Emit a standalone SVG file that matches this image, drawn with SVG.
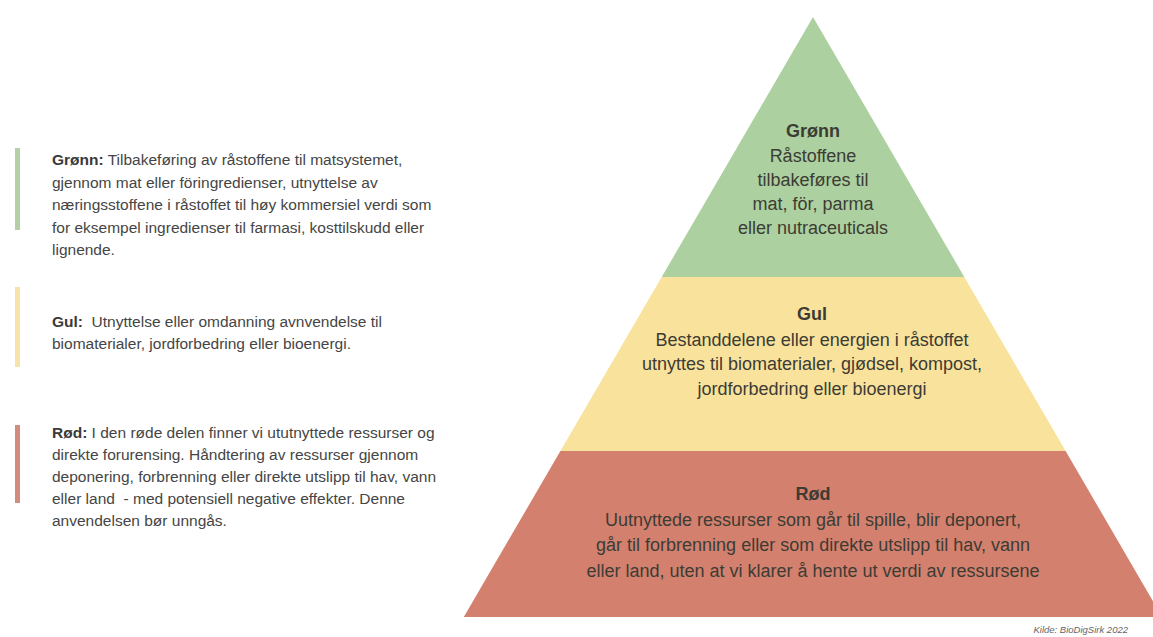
<svg xmlns="http://www.w3.org/2000/svg" width="1153" height="637" viewBox="0 0 1153 637">
  <style>
    .leg { font-family: "Liberation Sans", Arial, sans-serif; font-size: 15.5px; fill: #454545; white-space: pre; }
    .leg .b { font-weight: bold; fill: #3a3a3a; }
    .pyr { font-family: "Liberation Sans", Arial, sans-serif; font-size: 18px; fill: #3c3c34; text-anchor: middle; }
    .pyr .t { font-weight: bold; }
    .src { font-family: "Liberation Sans", Arial, sans-serif; font-size: 9.5px; font-style: italic; fill: #666666; text-anchor: end; }
  </style>
  <rect x="0" y="0" width="1153" height="637" fill="#ffffff"/>

  <g id="legend-gronn">
    <rect x="15" y="148" width="5" height="82" fill="#b5d0a8"/>
    <text class="leg" x="52" y="165"><tspan class="b">Grønn:</tspan> Tilbakeføring av råstoffene til matsystemet,</text>
    <text class="leg" x="52" y="187.5">gjennom mat eller föringredienser, utnyttelse av</text>
    <text class="leg" x="52" y="210">næringsstoffene i råstoffet til høy kommersiel verdi som</text>
    <text class="leg" x="52" y="232.5">for eksempel ingredienser til farmasi, kosttilskudd eller</text>
    <text class="leg" x="52" y="255">lignende.</text>
  </g>

  <g id="legend-gul">
    <rect x="15" y="287" width="5" height="80" fill="#f6e3a8"/>
    <text class="leg" x="52" y="327" xml:space="preserve"><tspan class="b">Gul:</tspan>  Utnyttelse eller omdanning avnvendelse til</text>
    <text class="leg" x="52" y="349">biomaterialer, jordforbedring eller bioenergi.</text>
  </g>

  <g id="legend-rod">
    <rect x="15" y="425" width="5" height="78" fill="#d38b80"/>
    <text class="leg" x="52" y="438"><tspan class="b">Rød:</tspan> I den røde delen finner vi ututnyttede ressurser og</text>
    <text class="leg" x="52" y="460">direkte forurensing. Håndtering av ressurser gjennom</text>
    <text class="leg" x="52" y="482">deponering, forbrenning eller direkte utslipp til hav, vann</text>
    <text class="leg" x="52" y="504" xml:space="preserve">eller land  - med potensiell negative effekter. Denne</text>
    <text class="leg" x="52" y="526">anvendelsen bør unngås.</text>
  </g>

  <g id="pyramid-gronn">
    <polygon points="813,17 964.3,277 661.7,277" fill="#acd09f"/>
    <text class="pyr" x="813" y="137"><tspan class="t">Grønn</tspan></text>
    <text class="pyr" x="813" y="161.5">Råstoffene</text>
    <text class="pyr" x="813" y="186">tilbakeføres til</text>
    <text class="pyr" x="813" y="210">mat, för, parma</text>
    <text class="pyr" x="813" y="234">eller nutraceuticals</text>
  </g>

  <g id="pyramid-gul">
    <polygon points="661.7,277 964.3,277 1065.6,451 560.4,451" fill="#f9e29c"/>
    <text class="pyr" x="812" y="320"><tspan class="t">Gul</tspan></text>
    <text class="pyr" x="812" y="345.5">Bestanddelene eller energien i råstoffet</text>
    <text class="pyr" x="812" y="370">utnyttes til biomaterialer, gjødsel, kompost,</text>
    <text class="pyr" x="812" y="395">jordforbedring eller bioenergi</text>
  </g>

  <g id="pyramid-rod">
    <polygon points="560.4,451 1065.6,451 1162.2,617 463.8,617" fill="#d4806e"/>
    <text class="pyr" x="813" y="500"><tspan class="t">Rød</tspan></text>
    <text class="pyr" x="813" y="525.5">Uutnyttede ressurser som går til spille, blir deponert,</text>
    <text class="pyr" x="813" y="551">går til forbrenning eller som direkte utslipp til hav, vann</text>
    <text class="pyr" x="813" y="576.5">eller land, uten at vi klarer å hente ut verdi av ressursene</text>
  </g>

  <text class="src" x="1128" y="633">Kilde: BioDigSirk 2022</text>
</svg>
